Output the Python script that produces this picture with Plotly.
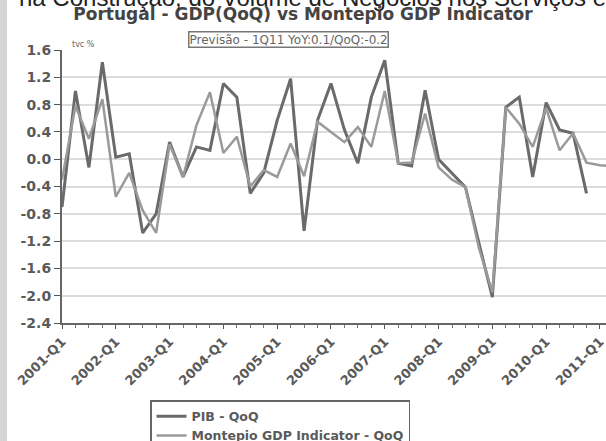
import plotly.graph_objects as go

# quarter index 0 = 2001-Q1
quarters = list(range(42))
pib_qoq = [-0.70, 1.00, -0.12, 1.42, 0.03, 0.08, -1.08, -0.80, 0.25, -0.26,
           0.18, 0.13, 1.11, 0.91, -0.50, -0.20, 0.57, 1.18, -1.05, 0.57,
           1.11, 0.43, -0.06, 0.91, 1.45, -0.06, -0.10, 1.01, 0.00, -0.20,
           -0.41, -1.23, -2.02, 0.76, 0.91, -0.26, 0.83, 0.43, 0.38, -0.50]
montepio_qoq = [-0.30, 0.78, 0.30, 0.88, -0.55, -0.20, -0.75, -1.08, 0.22, -0.26,
                0.50, 0.98, 0.09, 0.33, -0.40, -0.16, -0.26, 0.23, -0.25, 0.55,
                0.40, 0.25, 0.47, 0.18, 1.00, -0.06, -0.05, 0.67, -0.12, -0.30,
                -0.41, -1.30, -1.95, 0.76, 0.52, 0.18, 0.75, 0.13, 0.38, -0.05,
                -0.09, -0.10]
tick_quarters = [0, 4, 8, 12, 16, 20, 24, 28, 32, 36, 40]
tick_labels = ["2001-Q1", "2002-Q1", "2003-Q1", "2004-Q1", "2005-Q1", "2006-Q1",
               "2007-Q1", "2008-Q1", "2009-Q1", "2010-Q1", "2011-Q1"]
y_ticks = [1.6, 1.2, 0.8, 0.4, 0.0, -0.4, -0.8, -1.2, -1.6, -2.0, -2.4]

FONT = "DejaVu Sans"
GRAY = "#5a5a5a"

fig = go.Figure()
fig.add_trace(go.Scatter(x=quarters[:len(pib_qoq)], y=pib_qoq, mode="lines",
                         name="PIB - QoQ", line=dict(color="#6a6a6a", width=3)))
fig.add_trace(go.Scatter(x=quarters[:len(montepio_qoq)], y=montepio_qoq, mode="lines",
                         name="Montepio GDP Indicator - QoQ",
                         line=dict(color="#9a9a9a", width=2.5)))

fig.update_layout(
    width=606, height=441,
    margin=dict(l=62, r=0, t=50, b=118, autoexpand=False),
    paper_bgcolor="white", plot_bgcolor="white",
    font=dict(family=FONT, color=GRAY, size=10),
    showlegend=True,
    legend=dict(x=(150 - 62) / 544, y=(323 - 400) / 273, xanchor="left", yanchor="top",
                bordercolor="#666", borderwidth=1.5, bgcolor="white",
                font=dict(family=FONT, size=12.5, color=GRAY, weight="bold"),
                tracegroupgap=0, itemwidth=30),
    title=dict(text="<b>Portugal - GDP(QoQ) vs Montepio GDP Indicator</b>",
               x=(303) / 606, xanchor="center", xref="container",
               y=1 - 14 / 441, yanchor="middle", yref="container",
               font=dict(family=FONT, size=17, color="#444")),
    xaxis=dict(range=[0, 40.45], tickmode="array", tickvals=tick_quarters, ticktext=tick_labels,
               tickangle=-45, ticks="outside", ticklen=4, tickcolor="#555",
               ticklabeloverflow="allow",
               showline=True, linecolor="#666", linewidth=2, showgrid=False, zeroline=False,
               tickfont=dict(family=FONT, size=13, color=GRAY, weight="bold"),
               minor=dict(dtick=1, tick0=0, ticks="outside", ticklen=3, tickcolor="#777")),
    yaxis=dict(range=[-2.4, 1.6], tickmode="array", tickvals=y_ticks,
               ticktext=[f"{v:.1f}" for v in y_ticks],
               ticks="outside", ticklen=6, tickcolor="#555",
               showline=True, linecolor="#666", linewidth=2,
               showgrid=True, gridcolor="#dcdcdc", gridwidth=2, zeroline=False,
               tickfont=dict(family=FONT, size=14, color=GRAY, weight="bold")),
)

# left gray strip
fig.add_shape(type="rect", xref="paper", yref="paper",
              x0=-62 / 544, x1=-55 / 544, y0=(323 - 441) / 273, y1=(323 - 0) / 273,
              fillcolor="#d4d4d4", line=dict(width=0), layer="below")

# cut-off text at the top of the page
fig.add_annotation(text="na Construção, do Volume de Negócios nos Serviços e",
                   xref="paper", yref="paper", x=(312 - 62) / 544, y=(323 + 3) / 273,
                   xanchor="center", yanchor="middle", showarrow=False,
                   font=dict(family="Liberation Sans", size=24, color="#222"))

# forecast box
fig.add_annotation(text="Previsão - 1Q11 YoY:0.1/QoQ:-0.2",
                   xref="paper", yref="paper", x=(288 - 62) / 544, y=(323 - 40) / 273,
                   xanchor="center", yanchor="middle", showarrow=False,
                   bordercolor="#777", borderwidth=1.5, borderpad=0, bgcolor="white",
                   font=dict(family=FONT, size=12, color="#666"))

# unit label
fig.add_annotation(text="tvc %", xref="paper", yref="paper",
                   x=(70 - 62) / 544, y=(323 - 44) / 273, xanchor="left", yanchor="middle",
                   showarrow=False, font=dict(family=FONT, size=8, color="#666"))

fig.write_html("out.html", config={"displayModeBar": False},
               post_script="document.body.style.margin='0';")
